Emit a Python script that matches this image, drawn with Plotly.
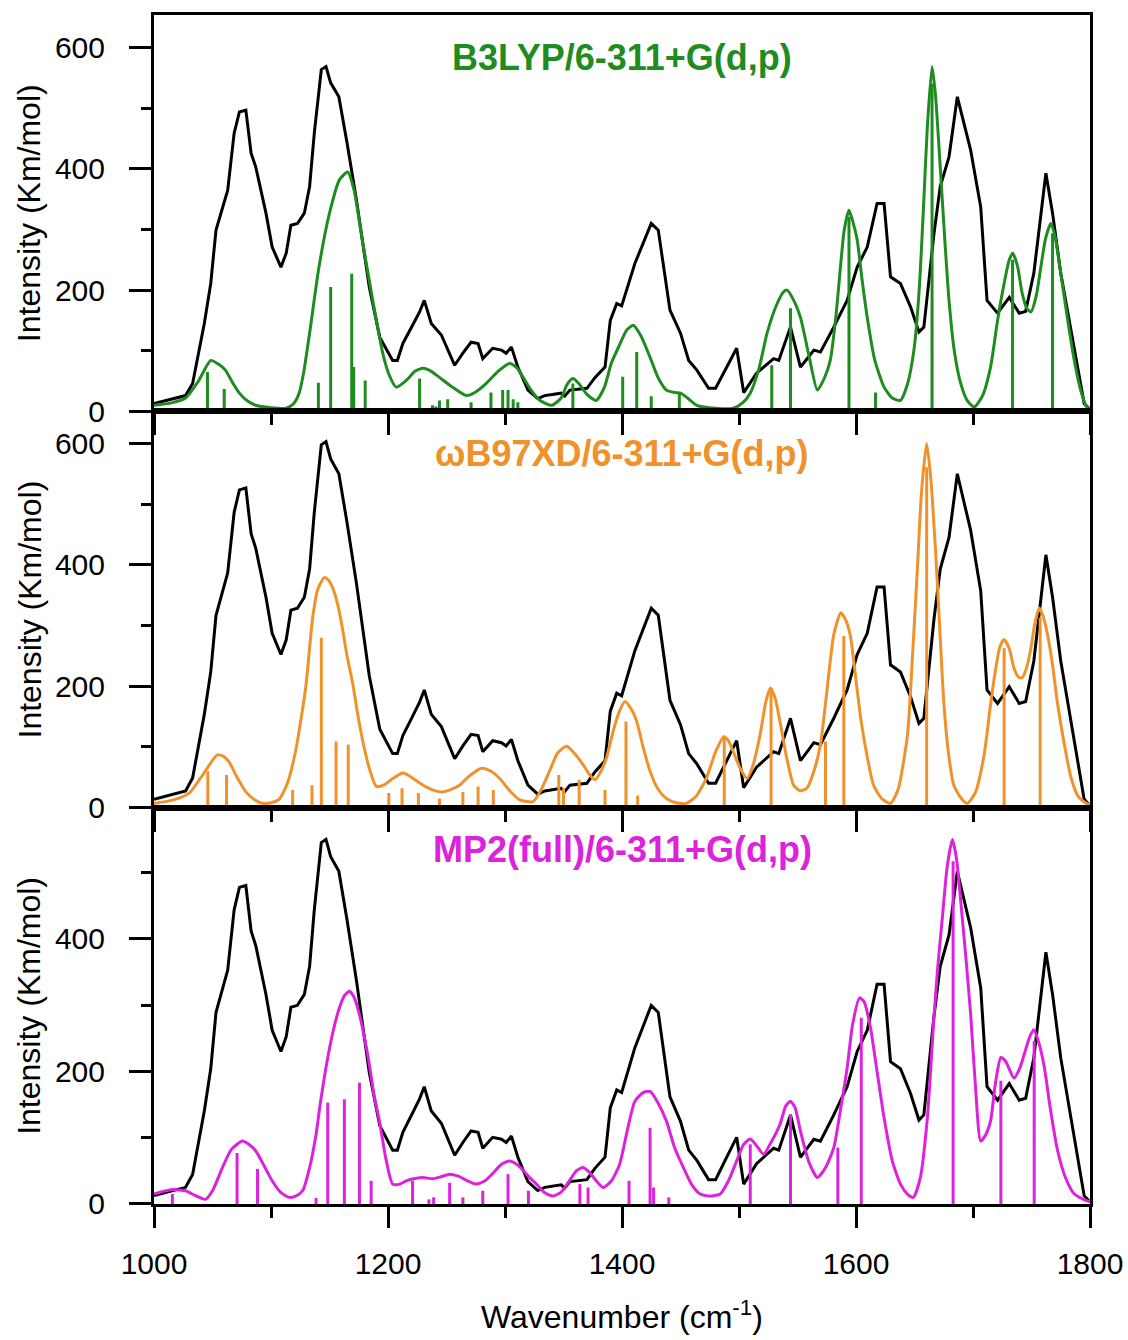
import plotly.graph_objects as go
from plotly.subplots import make_subplots

# ---------------- data ----------------
# experimental spectrum (values in panel-1 units) and per-panel normalisation
exp_wavenumber = [1000, 1027, 1033, 1043, 1048.5, 1053, 1063, 1068.5, 1073, 1078.5,
                  1083, 1087, 1095.7, 1101, 1108.5, 1113, 1117, 1122.6, 1128.5, 1133,
                  1137, 1143, 1147, 1151, 1158, 1165, 1173, 1184, 1193, 1204,
                  1208, 1212.7, 1221, 1227, 1231, 1237, 1245.6, 1257, 1264, 1271,
                  1277, 1281, 1289.5, 1297, 1301, 1305.5, 1311, 1319.6, 1328, 1334,
                  1348, 1351, 1355.5, 1370, 1377, 1385.5, 1390, 1395.5, 1399.7, 1411,
                  1425, 1431, 1441, 1450, 1457, 1464, 1474, 1480, 1492.5, 1498,
                  1504, 1515, 1529.6, 1534, 1544, 1552.5, 1555, 1564, 1569.6, 1581,
                  1592.4, 1601, 1609.6, 1618, 1624, 1629.5, 1638, 1646.7, 1653.8, 1658,
                  1666.7, 1672, 1679.5, 1686.6, 1698, 1706.6, 1712, 1721, 1731, 1739.5,
                  1745, 1752, 1762.3, 1768, 1775, 1786.6, 1795, 1800]
exp_intensity = [13, 26, 46, 145, 211, 299, 365, 459, 494, 497,
                 426, 403, 327, 271, 238, 261, 307, 310, 327, 371,
                 459, 564, 569, 542, 519, 443, 349, 205, 122, 84,
                 84, 112, 142, 164, 183, 145, 126, 76, 96, 114,
                 112, 87, 104, 101, 96, 106, 73, 35, 21, 26,
                 30, 25, 35, 38, 56, 73, 150, 178, 174, 244,
                 310, 299, 167, 129, 84, 68, 38, 38, 84, 104,
                 31, 63, 87, 84, 139, 73, 79, 101, 98, 139,
                 183, 238, 271, 343, 343, 222, 211, 172, 131, 139,
                 294, 371, 420, 519, 431, 337, 183, 162, 188, 162,
                 165, 228, 393, 327, 228, 101, 13, 3]
exp_scale = [1.0, 1.06, 0.967]

# B3LYP broadened spectrum and sticks
b3lyp_x = [1000, 1015, 1027, 1038, 1048.5, 1055, 1061, 1067, 1073, 1080, 1087, 1100, 1113,
           1119, 1124, 1128, 1133, 1141, 1150, 1158.5, 1165.6, 1171, 1178, 1187, 1195.5,
           1201, 1207, 1215.6, 1223, 1230, 1237, 1244, 1255, 1267, 1275, 1284, 1294, 1304,
           1310, 1315.5, 1322, 1330, 1340, 1348, 1353, 1358, 1363, 1370, 1378, 1385, 1391,
           1398, 1404, 1409.6, 1416, 1424, 1431, 1438, 1445, 1450, 1456, 1464, 1480, 1495,
           1503, 1509.6, 1517, 1524, 1532, 1538, 1541, 1546, 1552.5, 1560, 1567, 1573, 1578,
           1583, 1586.7, 1590, 1594, 1597, 1601, 1605, 1609.6, 1616, 1624, 1631, 1638, 1644,
           1649.5, 1654, 1658, 1661, 1665, 1668, 1672, 1676, 1679.5, 1684, 1689.5, 1695,
           1701, 1708, 1715, 1721, 1726.6, 1731, 1734, 1738, 1742, 1746, 1749.5, 1754, 1758,
           1762, 1766.6, 1770, 1775, 1781, 1786.6, 1792, 1797, 1800]
b3lyp_y = [10, 14, 22, 50, 84, 78, 68, 48, 30, 17, 10, 6, 5,
           12, 30, 65, 129, 238, 327, 382, 395, 365, 283, 183, 96,
           60, 40, 51, 66, 71, 66, 56, 40, 26, 32, 46, 66, 79,
           72, 56, 36, 18, 10, 22, 44, 54, 46, 28, 18, 40, 80,
           110, 134, 142, 125, 89, 55, 35, 31, 30, 22, 10, 5, 5,
           14, 30, 70, 129, 175, 197, 200, 186, 155, 90, 35, 55, 84,
           160, 238, 300, 332, 315, 283, 220, 155, 85, 40, 22, 18, 45,
           101, 200, 349, 470, 569, 520, 403, 280, 183, 100, 46, 18,
           7, 25, 73, 150, 211, 250, 261, 240, 195, 170, 164, 190, 238,
           285, 310, 290, 228, 150, 84, 35, 8, 5]
b3lyp_stick_x = [1045.7, 1060, 1140.5, 1151, 1169, 1170.7, 1180.5, 1227, 1238, 1241, 1244,
                 1251, 1271, 1288, 1298, 1302.6, 1307, 1311, 1358, 1400.6, 1412.6, 1425,
                 1449, 1528, 1544, 1594, 1616.7, 1665, 1733.8, 1768]
b3lyp_stick_y = [65, 37, 47, 205, 227, 73, 51, 54, 10, 8, 18,
                 20, 15, 31, 35, 35, 20, 15, 46, 57, 98, 25,
                 31, 76, 170, 321, 31, 541, 250, 294]

# wB97XD broadened spectrum and sticks
wb97xd_x = [1000, 1015, 1030, 1042, 1054, 1059, 1064, 1071, 1078.5, 1086, 1093, 1100, 1107,
            1114, 1121, 1126, 1130, 1135.6, 1140, 1145.6, 1149, 1152.7, 1157, 1161, 1165,
            1170, 1174, 1178.5, 1184, 1190, 1197, 1204, 1213, 1220, 1230, 1240, 1247, 1254,
            1261, 1270, 1280, 1288, 1295.5, 1304, 1312.6, 1324, 1331, 1338, 1345, 1352.6,
            1360, 1367, 1372, 1377, 1382, 1387, 1393, 1398, 1402.6, 1408, 1412.6, 1418, 1424,
            1431, 1438, 1446, 1455, 1463, 1472, 1480, 1487, 1491, 1495, 1501, 1506.8, 1512,
            1518, 1523, 1526.8, 1531, 1535, 1541, 1546.7, 1552, 1558, 1564, 1569.6, 1575,
            1581, 1587, 1591, 1595, 1600, 1604, 1610, 1615, 1622, 1629.5, 1636, 1644, 1648,
            1652.5, 1656, 1660.4, 1664, 1668, 1672, 1675, 1679, 1683.6, 1690, 1695, 1702,
            1709.5, 1715, 1719.5, 1723, 1726.6, 1731, 1735, 1739, 1742, 1746, 1749.5, 1753,
            1756.6, 1760, 1763.7, 1768, 1772, 1778, 1784, 1790, 1797, 1800]
wb97xd_y = [7, 12, 24, 55, 87, 85, 76, 50, 26, 13, 7, 8, 14,
            40, 93, 150, 203, 313, 360, 379, 375, 362, 335, 296, 250,
            203, 155, 109, 65, 35, 38, 48, 57, 50, 37, 28, 26, 30,
            37, 53, 65, 60, 48, 28, 13, 10, 30, 60, 90, 101,
            88, 70, 55, 46, 60, 84, 130, 160, 175, 162, 142, 100, 60,
            30, 15, 8, 7, 18, 48, 92, 117, 110, 93, 65, 48, 70,
            120, 175, 197, 180, 142, 80, 37, 28, 32, 60, 104, 190,
            285, 321, 310, 285, 210, 148, 80, 37, 15, 7, 30, 120, 240,
            395, 520, 600, 540, 423, 280, 175, 90, 37, 15, 7, 25,
            87, 170, 230, 265, 277, 262, 230, 215, 214, 232, 263, 305,
            329, 315, 285, 235, 175, 105, 48, 18, 7, 5]
wb97xd_stick_x = [1046, 1062, 1118.5, 1135, 1143, 1155.6, 1166, 1200.7, 1212, 1226, 1244,
                  1264, 1277, 1290, 1346, 1350, 1363.4, 1385.5, 1403.4, 1413.4, 1487.4,
                  1527.4, 1573.9, 1589.6, 1660.4, 1726.6, 1757.4]
wb97xd_stick_y = [60, 54, 29, 37, 280, 109, 104, 24, 32, 24, 15,
                  26, 35, 29, 54, 32, 46, 29, 142, 20, 115,
                  197, 109, 283, 561, 263, 313]

# MP2(full) broadened spectrum and sticks
mp2_x = [1000, 1008, 1015.7, 1022, 1027, 1035, 1044, 1050, 1058.5, 1066, 1075.6, 1081, 1087,
         1094, 1101, 1108, 1115.6, 1121, 1127, 1133, 1138.5, 1142, 1147, 1153, 1158.5, 1163,
         1167, 1171, 1175.6, 1180, 1184, 1188, 1192.7, 1198, 1204, 1210, 1215.6, 1222, 1230,
         1238, 1245, 1252.7, 1260, 1268, 1275.6, 1283, 1290, 1297, 1304, 1310, 1316, 1321,
         1328, 1334, 1341, 1348, 1355, 1361, 1366.6, 1372, 1378, 1384, 1391, 1398, 1405,
         1411, 1418, 1424, 1430, 1438, 1445, 1452.5, 1460, 1466.8, 1475, 1484, 1491, 1498,
         1504, 1509.6, 1515, 1521, 1528, 1535, 1540, 1544, 1548, 1552.5, 1560, 1567, 1574,
         1581, 1587, 1592.5, 1597, 1603, 1607, 1612.4, 1618, 1624, 1631, 1638, 1644, 1649,
         1655, 1661, 1666.6, 1670, 1673.8, 1678, 1682.4, 1686, 1689.5, 1694, 1698, 1702,
         1706.6, 1711, 1715, 1719, 1723.8, 1728, 1735, 1740, 1743.8, 1748, 1751.8, 1756,
         1761, 1766, 1772.4, 1779, 1786.6, 1797, 1800]
mp2_y = [15, 19, 22, 21, 20, 13, 7, 20, 55, 82, 95, 90, 80,
         58, 35, 18, 10, 12, 20, 55, 105, 150, 206, 260, 296, 315,
         321, 312, 286, 250, 211, 165, 125, 70, 30, 30, 35, 38, 40,
         38, 41, 45, 42, 35, 30, 35, 47, 60, 65, 60, 50, 40,
         28, 17, 12, 18, 35, 50, 55, 48, 35, 25, 35, 60, 115,
         155, 168, 170, 155, 125, 85, 55, 28, 15, 12, 15, 35, 65,
         90, 98, 88, 75, 95, 120, 148, 155, 145, 110, 62, 40, 55,
         85, 145, 206, 270, 311, 305, 266, 200, 130, 65, 30, 15, 10,
         40, 130, 281, 360, 432, 510, 550, 520, 457, 370, 286, 180,
         95, 105, 125, 180, 221, 215, 190, 205, 226, 250, 263, 245,
         206, 145, 80, 40, 15, 5, 4]
mp2_stick_x = [1015.7, 1071, 1088.5, 1138.5, 1148.5, 1162.7, 1175.6, 1185.6, 1221, 1235,
               1239, 1252.7, 1264, 1281, 1302.6, 1320, 1364, 1371, 1406, 1424, 1427, 1440,
               1509.6, 1544, 1584.5, 1604.5, 1683, 1723.8, 1752.3]
mp2_stick_y = [15, 77, 53, 9, 153, 158, 183, 35, 35, 7,
               10, 32, 10, 20, 45, 20, 30, 25, 35, 115, 25, 10,
               90, 135, 85, 281, 517, 186, 246]

panel_titles = ["B3LYP/6-311+G(d,p)", "ωB97XD/6-311+G(d,p)", "MP2(full)/6-311+G(d,p)"]
panel_colors = ["#1f8c1f", "#f0922b", "#dd22dd"]
y_upper = [654, 653, 598]

curves = [(b3lyp_x, b3lyp_y), (wb97xd_x, wb97xd_y), (mp2_x, mp2_y)]
sticks = [(b3lyp_stick_x, b3lyp_stick_y), (wb97xd_stick_x, wb97xd_stick_y),
          (mp2_stick_x, mp2_stick_y)]

# ---------------- figure ----------------
fig = make_subplots(rows=3, cols=1, shared_xaxes=True, vertical_spacing=0)

FONT = "Liberation Sans, Arial, Helvetica, sans-serif"

for i in range(3):
    row = i + 1
    col = panel_colors[i]
    fig.add_trace(go.Scatter(x=exp_wavenumber,
                             y=[v * exp_scale[i] for v in exp_intensity],
                             mode="lines", line=dict(color="black", width=3),
                             hoverinfo="skip"), row=row, col=1)
    sx, sy = [], []
    for xv, yv in zip(*sticks[i]):
        sx += [xv, xv, None]
        sy += [0, yv, None]
    fig.add_trace(go.Scatter(x=sx, y=sy, mode="lines",
                             line=dict(color=col, width=3), hoverinfo="skip"),
                  row=row, col=1)
    fig.add_trace(go.Scatter(x=curves[i][0], y=curves[i][1], mode="lines",
                             line=dict(color=col, width=3, shape="spline", smoothing=0.6),
                             hoverinfo="skip"), row=row, col=1)

    fig.update_xaxes(row=row, col=1, range=[1000, 1800], tick0=1000, dtick=200,
                     ticks="outside", ticklen=21, tickwidth=3, tickcolor="black",
                     minor=dict(dtick=100, tick0=1000, ticks="outside", ticklen=11,
                                tickwidth=3, tickcolor="black"),
                     showline=True, linewidth=3, linecolor="black", mirror=True,
                     showgrid=False, zeroline=False, automargin=False,
                     showticklabels=(row == 3),
                     tickfont=dict(family=FONT, size=30, color="black"),
                     ticklabelstandoff=10)
    fig.update_yaxes(row=row, col=1, range=[0, y_upper[i]], tick0=0, dtick=200,
                     ticks="outside", ticklen=22, tickwidth=3, tickcolor="black",
                     minor=dict(dtick=100, tick0=0, ticks="outside", ticklen=10,
                                tickwidth=3, tickcolor="black"),
                     showline=True, linewidth=3, linecolor="black", mirror=True,
                     showgrid=False, zeroline=False, automargin=False,
                     tickfont=dict(family=FONT, size=30, color="black"),
                     ticklabelstandoff=18)

plot_h = 1340 - 15 - 136
annotations = []
for i in range(3):
    top = 1 - i / 3
    center = 1 - (i + 0.5) / 3
    annotations.append(dict(xref="paper", yref="paper", x=0.5, y=top - 42 / plot_h,
                            text="<b>" + panel_titles[i] + "</b>", showarrow=False,
                            xanchor="center", yanchor="middle",
                            font=dict(family=FONT, size=36, color=panel_colors[i])))
    annotations.append(dict(xref="paper", yref="paper", x=(29 - 154) / 936, y=center,
                            text="Intensity (Km/mol)", textangle=-90, showarrow=False,
                            xanchor="center", yanchor="middle",
                            font=dict(family=FONT, size=32, color="black")))
annotations.append(dict(xref="paper", yref="paper", x=0.5, y=(1204 - 1315) / plot_h,
                        text="Wavenumber (cm<sup>-1</sup>)", showarrow=False,
                        xanchor="center", yanchor="middle",
                        font=dict(family=FONT, size=32, color="black")))

fig.update_layout(width=1128, height=1340,
                  margin=dict(l=154, r=38, t=15, b=136, autoexpand=False),
                  paper_bgcolor="white", plot_bgcolor="rgba(0,0,0,0)",
                  showlegend=False, annotations=annotations,
                  font=dict(family=FONT, color="black"))

fig.write_html("out.html")
